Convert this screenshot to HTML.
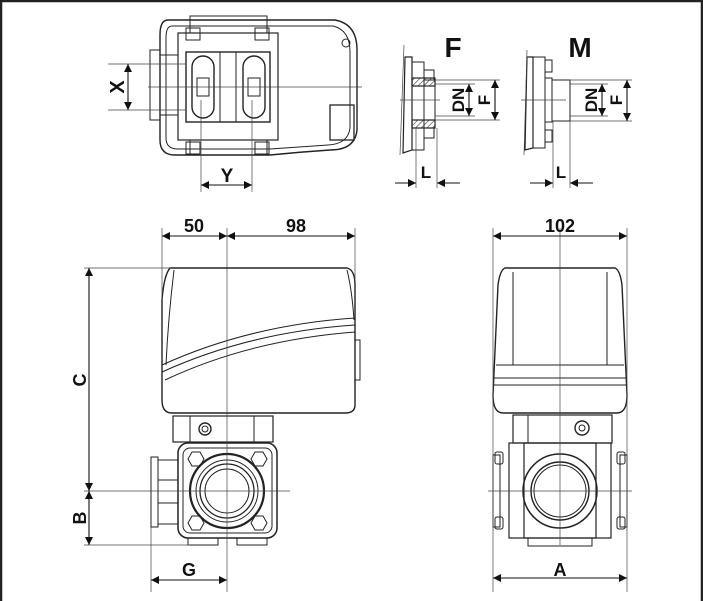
<!DOCTYPE html>
<html><head><meta charset="utf-8"><style>
html,body{margin:0;padding:0;background:#fff;}
svg{display:block;}
text{font-family:"Liberation Sans",sans-serif;font-weight:bold;fill:#111;}
</style></head><body>
<svg width="703" height="601" viewBox="0 0 703 601" xmlns="http://www.w3.org/2000/svg">
<defs>
<marker id="a" viewBox="0 0 10 10" refX="10" refY="5" markerWidth="10" markerHeight="8" orient="auto-start-reverse" markerUnits="userSpaceOnUse"><path d="M0,0L10,5L0,10z" fill="#111"/></marker>
<pattern id="h" width="4" height="4" patternUnits="userSpaceOnUse" patternTransform="rotate(45)"><line x1="0" y1="0" x2="0" y2="4" stroke="#333" stroke-width="1.2"/></pattern>
</defs>
<rect x="1" y="1" width="701" height="620" fill="none" stroke="#222" stroke-width="2.5"/>
<g fill="none" stroke="#222" stroke-width="1">
<!-- TOP VIEW -->
<path d="M168,20 H335 Q357,24 357,50 V130 Q355,150 330,150 Q300,152 270,155 H175 Q160,155 160,140 V35 Q160,20 168,20z" stroke-width="1.4"/>
<path d="M172,26 H333 Q350,30 350,52 V128 Q348,144 328,145 L270,149 H178 Q166,149 166,138 V38 Q166,26 172,26z"/>
<rect x="190" y="16" width="77" height="17"/><rect x="190" y="140" width="77" height="15"/>
<rect x="178" y="33" width="100" height="107" stroke-width="1.2"/>
<rect x="186" y="52" width="84" height="70" stroke-width="1.4"/>
<rect x="150" y="50" width="10" height="70"/><rect x="160" y="55" width="18" height="60"/>
<rect x="186" y="28" width="14" height="12"/><rect x="255" y="28" width="14" height="12"/>
<rect x="186" y="142" width="14" height="12"/><rect x="255" y="142" width="14" height="12"/>
<rect x="192" y="56" width="22" height="62" rx="11" stroke-width="1.4"/>
<rect x="243" y="56" width="22" height="62" rx="11" stroke-width="1.4"/>
<path d="M197,78 h12 v18 h-12z M248,78 h12 v18 h-12z"/>
<line x1="220" y1="52" x2="220" y2="122"/><line x1="236" y1="52" x2="236" y2="122"/>
<rect x="330" y="105" width="24" height="35" stroke-width="1.3"/>
<circle cx="346" cy="43" r="4"/>
<!-- F -->
<path d="M405,57 L412,57 L412,150 L403,153z" stroke-width="1.2"/>
<rect x="412" y="62" width="12" height="88"/>
<rect x="424" y="70" width="10" height="10"/><rect x="424" y="128" width="10" height="10"/>
<rect x="412" y="78" width="23" height="8" fill="url(#h)" stroke-width="1.2"/>
<rect x="412" y="120" width="23" height="8" fill="url(#h)" stroke-width="1.2"/>
<line x1="435" y1="78" x2="435" y2="128"/>
<!-- M -->
<path d="M527,57 L533,57 L533,148 L525,150z" stroke-width="1.2"/>
<rect x="533" y="57" width="12" height="91"/>
<rect x="545" y="60" width="7" height="12"/><rect x="545" y="130" width="7" height="12"/>
<rect x="545" y="78" width="7" height="44"/>
<rect x="552" y="80" width="18" height="41"/>
<!-- SIDE VIEW -->
<path d="M170,268 H347 Q355,270 355,285 V405 Q355,413 345,413 H172 Q162,413 162,400 V300 Q164,275 170,268z" stroke-width="1.4"/>
<path d="M174,270 Q168,320 166,365"/><path d="M347,270 Q352,290 354,320"/>
<path d="M162,365 Q250,325 355,318"/><path d="M162,372 Q250,332 355,325"/><path d="M165,380 Q250,340 355,332"/>
<rect x="355" y="340" width="5" height="40"/>
<rect x="173" y="416" width="100" height="26" stroke-width="1.2"/><line x1="190" y1="416" x2="190" y2="442"/><line x1="254" y1="416" x2="254" y2="442"/>
<circle cx="205" cy="429" r="6" stroke-width="1.4"/><circle cx="205" cy="429" r="3"/>
<rect x="178" y="443" width="99" height="95" rx="10" stroke-width="1.5"/>
<rect x="183" y="448" width="89" height="85" rx="7"/>
<path d="M192,452 l8,0 l4,7 l-4,7 l-8,0 l-4,-7z M255,452 l8,0 l4,7 l-4,7 l-8,0 l-4,-7z M192,516 l8,0 l4,7 l-4,7 l-8,0 l-4,-7z M255,516 l8,0 l4,7 l-4,7 l-8,0 l-4,-7z"/>
<circle cx="227" cy="491" r="37" stroke-width="2.2"/><circle cx="227" cy="491" r="31"/><circle cx="227" cy="491" r="27" stroke-width="1.3"/><circle cx="227" cy="491" r="22"/>
<rect x="151" y="457" width="7" height="70"/><rect x="158" y="460" width="20" height="64"/>
<line x1="158" y1="480" x2="178" y2="480"/><line x1="158" y1="503" x2="178" y2="503"/>
<rect x="188" y="538" width="30" height="7"/><rect x="237" y="538" width="30" height="7"/>
<!-- FRONT VIEW -->
<path d="M505,268 H615 Q620,270 622,285 L627,395 Q627,413 617,413 H503 Q493,413 493,395 L498,285 Q500,270 505,268z" stroke-width="1.4"/>
<path d="M513,272 V365 H607 V272"/><line x1="496" y1="365" x2="624" y2="365"/><line x1="493" y1="378" x2="627" y2="378"/><line x1="493" y1="385" x2="627" y2="385"/>
<rect x="513" y="415" width="99" height="28" stroke-width="1.2"/><line x1="528" y1="415" x2="528" y2="443"/>
<circle cx="582" cy="428" r="7" stroke-width="1.4"/><circle cx="582" cy="428" r="3"/>
<rect x="509" y="443" width="102" height="95" stroke-width="1.2"/><rect x="524" y="443" width="72" height="95" stroke-width="1.2"/>
<rect x="493" y="455" width="7" height="72"/><rect x="620" y="455" width="7" height="72"/>
<rect x="495" y="452" width="8" height="12" rx="2"/><rect x="495" y="517" width="8" height="12" rx="2"/>
<rect x="617" y="452" width="8" height="12" rx="2"/><rect x="617" y="517" width="8" height="12" rx="2"/>
<circle cx="560" cy="491" r="37" stroke-width="1.5"/><circle cx="560" cy="491" r="29" stroke-width="1.4"/><circle cx="560" cy="491" r="26"/>
<rect x="528" y="538" width="64" height="8"/>
</g>
<g stroke="#444" stroke-width="0.7" fill="none">
<line x1="148" y1="87" x2="362" y2="87"/>
<line x1="108" y1="64" x2="186" y2="64"/><line x1="108" y1="110" x2="186" y2="110"/>
<line x1="201" y1="100" x2="201" y2="192"/><line x1="252" y1="100" x2="252" y2="192"/>
<line x1="400" y1="100" x2="440" y2="100"/><line x1="521" y1="100" x2="566" y2="100"/>
<line x1="404" y1="45" x2="400" y2="155"/><line x1="527" y1="50" x2="524" y2="155"/>
<line x1="435" y1="80" x2="500" y2="80"/><line x1="435" y1="120" x2="500" y2="120"/>
<line x1="435" y1="84" x2="475" y2="84"/><line x1="435" y1="116" x2="475" y2="116"/>
<line x1="570" y1="80" x2="632" y2="80"/><line x1="570" y1="121" x2="632" y2="121"/>
<line x1="570" y1="84" x2="608" y2="84"/><line x1="570" y1="116" x2="608" y2="116"/>
<line x1="416" y1="128" x2="416" y2="188"/><line x1="437" y1="128" x2="437" y2="188"/>
<line x1="553" y1="121" x2="553" y2="188"/><line x1="570" y1="121" x2="570" y2="188"/>
<line x1="227" y1="228" x2="227" y2="592"/><line x1="162" y1="228" x2="162" y2="300"/><line x1="355" y1="228" x2="355" y2="280"/>
<line x1="84" y1="268" x2="172" y2="268"/><line x1="84" y1="491" x2="290" y2="491"/><line x1="84" y1="545" x2="190" y2="545"/>
<line x1="151" y1="527" x2="151" y2="592"/>
<line x1="560" y1="228" x2="560" y2="545"/><line x1="493" y1="228" x2="493" y2="592"/><line x1="627" y1="228" x2="627" y2="592"/>
<line x1="488" y1="491" x2="632" y2="491"/>
</g>
<g stroke="#111" stroke-width="1.1" fill="none">
<line x1="128" y1="64" x2="128" y2="110" marker-start="url(#a)" marker-end="url(#a)"/>
<line x1="201" y1="185" x2="252" y2="185" marker-start="url(#a)" marker-end="url(#a)"/>
<line x1="469" y1="84" x2="469" y2="116" marker-start="url(#a)" marker-end="url(#a)"/>
<line x1="495" y1="80" x2="495" y2="120" marker-start="url(#a)" marker-end="url(#a)"/>
<line x1="602" y1="84" x2="602" y2="116" marker-start="url(#a)" marker-end="url(#a)"/>
<line x1="627" y1="80" x2="627" y2="121" marker-start="url(#a)" marker-end="url(#a)"/>
<line x1="395" y1="183" x2="416" y2="183" marker-end="url(#a)"/><line x1="460" y1="183" x2="437" y2="183" marker-end="url(#a)"/>
<line x1="530" y1="183" x2="553" y2="183" marker-end="url(#a)"/><line x1="593" y1="183" x2="570" y2="183" marker-end="url(#a)"/>
<line x1="162" y1="236" x2="227" y2="236" marker-start="url(#a)" marker-end="url(#a)"/>
<line x1="227" y1="236" x2="355" y2="236" marker-start="url(#a)" marker-end="url(#a)"/>
<line x1="89" y1="268" x2="89" y2="491" marker-start="url(#a)" marker-end="url(#a)"/>
<line x1="89" y1="491" x2="89" y2="545" marker-start="url(#a)" marker-end="url(#a)"/>
<line x1="151" y1="580" x2="227" y2="580" marker-start="url(#a)" marker-end="url(#a)"/>
<line x1="493" y1="236" x2="627" y2="236" marker-start="url(#a)" marker-end="url(#a)"/>
<line x1="493" y1="578" x2="627" y2="578" marker-start="url(#a)" marker-end="url(#a)"/>
</g>
<text x="453" y="57" font-size="28" text-anchor="middle">F</text>
<text x="580" y="57" font-size="28" text-anchor="middle">M</text>
<text transform="translate(124,87) rotate(-90)" font-size="20" text-anchor="middle">X</text>
<text x="227" y="182" font-size="19" text-anchor="middle">Y</text>
<text transform="translate(464,100) rotate(-90)" font-size="17" text-anchor="middle">DN</text>
<text transform="translate(490,100) rotate(-90)" font-size="17" text-anchor="middle">F</text>
<text transform="translate(597,100) rotate(-90)" font-size="17" text-anchor="middle">DN</text>
<text transform="translate(622,100) rotate(-90)" font-size="17" text-anchor="middle">F</text>
<text x="426" y="178" font-size="17" text-anchor="middle">L</text>
<text x="561" y="178" font-size="17" text-anchor="middle">L</text>
<text x="194" y="232" font-size="18" text-anchor="middle">50</text>
<text x="296" y="232" font-size="18" text-anchor="middle">98</text>
<text x="560" y="232" font-size="18" text-anchor="middle">102</text>
<text transform="translate(86,380) rotate(-90)" font-size="18" text-anchor="middle">C</text>
<text transform="translate(86,518) rotate(-90)" font-size="18" text-anchor="middle">B</text>
<text x="189" y="576" font-size="18" text-anchor="middle">G</text>
<text x="560" y="576" font-size="18" text-anchor="middle">A</text>
</svg>
</body></html>
